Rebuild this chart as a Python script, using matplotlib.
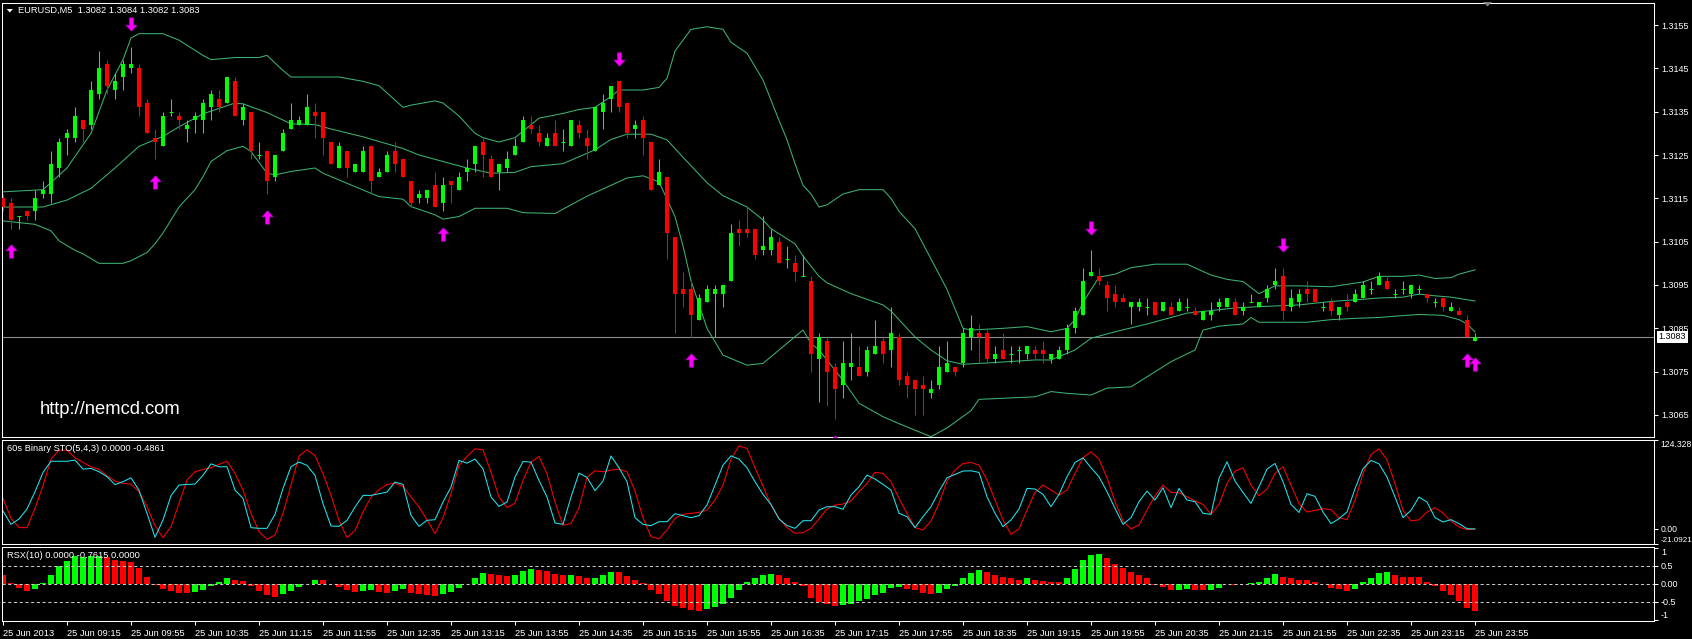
import numpy as np
import matplotlib
matplotlib.use('Agg')
import matplotlib.pyplot as plt
from matplotlib.path import Path
from matplotlib.patches import Polygon

plt.rcParams['font.family'] = ['Liberation Sans', 'DejaVu Sans']

W, H = 1692, 639
BULL = '#00ff00'
BEAR = '#ff0000'
BAND = '#3cb371'
CYAN = '#1fe6ee'

# EURUSD M5, 25 Jun 2013 08:35 .. 23:55 (185 bars)
opens = [
    1.3115, 1.3114, 1.3111, 1.3112, 1.3112, 1.3116, 1.3116, 1.3122, 1.3129, 1.3129,
    1.3133, 1.3132, 1.3139, 1.3146, 1.3140, 1.3143, 1.3145, 1.3145, 1.3137, 1.3129,
    1.3127, 1.3135, 1.3134, 1.3131, 1.3133, 1.3133, 1.3136, 1.3138, 1.3137, 1.3142,
    1.3133, 1.3135, 1.3125, 1.3126, 1.3120, 1.3126, 1.3131, 1.3132, 1.3132, 1.3135,
    1.3135, 1.3128, 1.3122, 1.3126, 1.3121, 1.3121, 1.3127, 1.3120, 1.3121, 1.3126,
    1.3124, 1.3119, 1.3115, 1.3115, 1.3118, 1.3114, 1.3119, 1.3117, 1.3121, 1.3123,
    1.3128, 1.3124, 1.3121, 1.3122, 1.3125, 1.3128, 1.3132, 1.3130, 1.3127, 1.3130,
    1.3128, 1.3127, 1.3132, 1.3129, 1.3126, 1.3135, 1.3138, 1.3142, 1.3137, 1.3131,
    1.3133, 1.3128, 1.3118, 1.3120, 1.3106, 1.3094, 1.3094, 1.3087, 1.3091, 1.3093,
    1.3093, 1.3096, 1.3108, 1.3108, 1.3108, 1.3103, 1.3103, 1.3105, 1.3101, 1.3100,
    1.3097, 1.3096, 1.3078, 1.3082, 1.3076, 1.3072, 1.3076, 1.3076, 1.3075, 1.3079,
    1.3082, 1.3080, 1.3083, 1.3074, 1.3073, 1.3072, 1.3070, 1.3072, 1.3075, 1.3076,
    1.3077, 1.3083, 1.3084, 1.3084, 1.3078, 1.3080, 1.3079, 1.3080, 1.3079, 1.3080,
    1.3080, 1.3078, 1.3078, 1.3080, 1.3085, 1.3088, 1.3097, 1.3097, 1.3095, 1.3093,
    1.3092, 1.3090, 1.3090, 1.3090, 1.3091, 1.3089, 1.3090, 1.3089, 1.3090, 1.3089,
    1.3087, 1.3088, 1.3090, 1.3090, 1.3091, 1.3089, 1.3091, 1.3090, 1.3092, 1.3095,
    1.3097, 1.3090, 1.3091, 1.3094, 1.3094, 1.3090, 1.3091, 1.3088, 1.3091, 1.3091,
    1.3092, 1.3094, 1.3095, 1.3096, 1.3093, 1.3094, 1.3093, 1.3094, 1.3093, 1.3091,
    1.3092, 1.3089, 1.3089, 1.3087, 1.3082,
]
highs = [
    1.3116, 1.3115, 1.3111, 1.3112, 1.3117, 1.3119, 1.3126, 1.3129, 1.3131, 1.3136,
    1.3133, 1.3142, 1.3149, 1.3147, 1.3144, 1.3147, 1.3150, 1.3146, 1.3138, 1.3131,
    1.3135, 1.3138, 1.3135, 1.3133, 1.3135, 1.3138, 1.3140, 1.3140, 1.3143, 1.3143,
    1.3137, 1.3135, 1.3128, 1.3126, 1.3125, 1.3131, 1.3137, 1.3134, 1.3139, 1.3137,
    1.3135, 1.3128, 1.3128, 1.3126, 1.3123, 1.3127, 1.3127, 1.3122, 1.3126, 1.3128,
    1.3124, 1.3119, 1.3117, 1.3117, 1.3121, 1.3120, 1.3119, 1.3121, 1.3124, 1.3127,
    1.3129, 1.3125, 1.3123, 1.3126, 1.3129, 1.3134, 1.3134, 1.3132, 1.3130, 1.3133,
    1.3131, 1.3133, 1.3133, 1.3131, 1.3136, 1.3139, 1.3141, 1.3142, 1.3137, 1.3133,
    1.3134, 1.3128, 1.3124, 1.3120, 1.3106, 1.3098, 1.3096, 1.3093, 1.3095, 1.3095,
    1.3095, 1.3109, 1.3110, 1.3113, 1.3108, 1.3111, 1.3108, 1.3106, 1.3104, 1.3102,
    1.3102, 1.3097, 1.3084, 1.3083, 1.3077, 1.3082, 1.3084, 1.3081, 1.3081, 1.3087,
    1.3083, 1.3090, 1.3084, 1.3075, 1.3073, 1.3074, 1.3073, 1.3081, 1.3082, 1.3076,
    1.3085, 1.3088, 1.3086, 1.3085, 1.3081, 1.3084, 1.3081, 1.3081, 1.3081, 1.3081,
    1.3082, 1.3079, 1.3081, 1.3086, 1.3090, 1.3099, 1.3103, 1.3099, 1.3096, 1.3095,
    1.3093, 1.3091, 1.3092, 1.3092, 1.3091, 1.3091, 1.3091, 1.3092, 1.3092, 1.3090,
    1.3089, 1.3091, 1.3092, 1.3092, 1.3092, 1.3091, 1.3093, 1.3091, 1.3095, 1.3099,
    1.3099, 1.3094, 1.3094, 1.3096, 1.3094, 1.3091, 1.3092, 1.3090, 1.3093, 1.3094,
    1.3096, 1.3096, 1.3098, 1.3097, 1.3094, 1.3096, 1.3095, 1.3095, 1.3093, 1.3092,
    1.3092, 1.3091, 1.3090, 1.3088, 1.3084,
]
lows = [
    1.3112, 1.3108, 1.3108, 1.3110, 1.3110, 1.3115, 1.3114, 1.3120, 1.3125, 1.3128,
    1.3128, 1.3131, 1.3138, 1.3139, 1.3138, 1.3140, 1.3144, 1.3134, 1.3130, 1.3124,
    1.3127, 1.3134, 1.3131, 1.3128, 1.3130, 1.3130, 1.3133, 1.3135, 1.3137, 1.3134,
    1.3132, 1.3124, 1.3124, 1.3116, 1.3119, 1.3126, 1.3131, 1.3132, 1.3132, 1.3129,
    1.3125, 1.3123, 1.3122, 1.3120, 1.3121, 1.3121, 1.3116, 1.3120, 1.3121, 1.3121,
    1.3120, 1.3113, 1.3114, 1.3114, 1.3113, 1.3112, 1.3114, 1.3117, 1.3119, 1.3121,
    1.3120, 1.3120, 1.3117, 1.3121, 1.3125, 1.3128, 1.3130, 1.3127, 1.3127, 1.3127,
    1.3126, 1.3127, 1.3129, 1.3124, 1.3126, 1.3131, 1.3135, 1.3135, 1.3129, 1.3129,
    1.3125, 1.3117, 1.3118, 1.3101, 1.3084, 1.3090, 1.3083, 1.3087, 1.3091, 1.3083,
    1.3090, 1.3096, 1.3104, 1.3106, 1.3101, 1.3102, 1.3102, 1.3100, 1.3099, 1.3096,
    1.3097, 1.3075, 1.3068, 1.3067, 1.3064, 1.3069, 1.3073, 1.3074, 1.3074, 1.3079,
    1.3077, 1.3076, 1.3072, 1.3069, 1.3065, 1.3065, 1.3069, 1.3071, 1.3075, 1.3074,
    1.3076, 1.3080, 1.3077, 1.3077, 1.3077, 1.3078, 1.3077, 1.3077, 1.3078, 1.3078,
    1.3077, 1.3077, 1.3078, 1.3079, 1.3084, 1.3088, 1.3097, 1.3095, 1.3089, 1.3090,
    1.3091, 1.3086, 1.3089, 1.3088, 1.3088, 1.3089, 1.3088, 1.3089, 1.3089, 1.3088,
    1.3087, 1.3087, 1.3089, 1.3090, 1.3088, 1.3088, 1.3091, 1.3090, 1.3091, 1.3094,
    1.3087, 1.3089, 1.3090, 1.3091, 1.3091, 1.3089, 1.3088, 1.3087, 1.3089, 1.3091,
    1.3092, 1.3093, 1.3095, 1.3094, 1.3092, 1.3093, 1.3092, 1.3093, 1.3091, 1.3090,
    1.3089, 1.3089, 1.3088, 1.3083, 1.3082,
]
closes = [
    1.3113, 1.3110, 1.3111, 1.3111, 1.3115, 1.3117, 1.3123, 1.3128, 1.3130, 1.3134,
    1.3131, 1.3140, 1.3145, 1.3141, 1.3142, 1.3146, 1.3146, 1.3136, 1.3130, 1.3128,
    1.3134, 1.3135, 1.3133, 1.3132, 1.3134, 1.3137, 1.3139, 1.3136, 1.3143, 1.3134,
    1.3136, 1.3126, 1.3125, 1.3119, 1.3125, 1.3130, 1.3133, 1.3133, 1.3136, 1.3134,
    1.3129, 1.3123, 1.3127, 1.3122, 1.3123, 1.3126, 1.3119, 1.3121, 1.3125, 1.3123,
    1.3120, 1.3114, 1.3116, 1.3117, 1.3113, 1.3118, 1.3118, 1.3120, 1.3122, 1.3127,
    1.3125, 1.3120, 1.3123, 1.3124, 1.3127, 1.3133, 1.3131, 1.3128, 1.3129, 1.3127,
    1.3128, 1.3133, 1.3130, 1.3127, 1.3136, 1.3137, 1.3141, 1.3136, 1.3130, 1.3132,
    1.3129, 1.3117, 1.3121, 1.3107, 1.3093, 1.3093, 1.3088, 1.3092, 1.3094, 1.3094,
    1.3095, 1.3107, 1.3107, 1.3107, 1.3102, 1.3104, 1.3106, 1.3100, 1.3101, 1.3098,
    1.3097, 1.3079, 1.3083, 1.3075, 1.3071, 1.3077, 1.3077, 1.3074, 1.3080, 1.3081,
    1.3079, 1.3084, 1.3073, 1.3072, 1.3071, 1.3071, 1.3071, 1.3076, 1.3077, 1.3075,
    1.3084, 1.3085, 1.3083, 1.3078, 1.3079, 1.3078, 1.3079, 1.3080, 1.3081, 1.3079,
    1.3079, 1.3079, 1.3080, 1.3085, 1.3089, 1.3096, 1.3098, 1.3096, 1.3092, 1.3091,
    1.3091, 1.3091, 1.3091, 1.3090, 1.3088, 1.3091, 1.3088, 1.3091, 1.3090, 1.3088,
    1.3089, 1.3089, 1.3091, 1.3092, 1.3088, 1.3090, 1.3091, 1.3091, 1.3094, 1.3096,
    1.3089, 1.3092, 1.3093, 1.3093, 1.3091, 1.3090, 1.3089, 1.3090, 1.3090, 1.3093,
    1.3095, 1.3094, 1.3097, 1.3094, 1.3093, 1.3094, 1.3095, 1.3094, 1.3092, 1.3091,
    1.3090, 1.3090, 1.3088, 1.3083, 1.3083,
]

# Bollinger bands at these bars
upper_idx = [0, 5, 8, 11, 12, 13, 15, 16, 17, 20, 22, 25, 26, 29, 32, 33, 35, 36, 38, 42,
             45, 47, 50, 51, 54, 55, 57, 59, 60, 62, 64, 65, 67, 70, 72, 74, 76, 77, 80, 82,
             83, 84, 86, 88, 90, 91, 93, 95, 97, 98, 99, 100, 101, 102, 103, 105, 107, 110, 111, 112,
             114, 116, 118, 120, 121, 125, 128, 130, 131, 133, 134, 135, 137, 139, 141, 144, 148, 151, 153, 155,
             157, 159, 162, 166, 170, 172, 175, 177, 179, 181, 182, 184]
upper_val = [1.31165, 1.3117, 1.3122, 1.3130, 1.3135, 1.3140, 1.3147, 1.3152, 1.3153, 1.3153,
             1.31515, 1.3148, 1.3147, 1.31475, 1.31475, 1.3148, 1.31445, 1.3143, 1.3143, 1.3143,
             1.3142, 1.3141, 1.3136, 1.31365, 1.31375, 1.3137, 1.3134, 1.3130, 1.3129, 1.3128,
             1.3129, 1.31305, 1.31335, 1.31346, 1.31355, 1.3136, 1.31385, 1.3140, 1.3140, 1.31406,
             1.31427, 1.3149, 1.3154, 1.31546, 1.3154, 1.3151, 1.31485, 1.31423, 1.3133, 1.31285,
             1.3123, 1.3118, 1.3116, 1.3113, 1.31135, 1.3116, 1.3117, 1.3117, 1.3115, 1.3112,
             1.3108, 1.3101, 1.3094, 1.3085, 1.30846, 1.3085, 1.30854, 1.30846, 1.30842, 1.3085,
             1.3087, 1.3091, 1.30968, 1.30975, 1.3099, 1.30998, 1.30998, 1.30973, 1.30963, 1.30958,
             1.3093, 1.30948, 1.30948, 1.30946, 1.30957, 1.3097, 1.3097, 1.30973, 1.30965, 1.30967,
             1.30975, 1.30985]
middle_idx = [0, 5, 8, 11, 14, 17, 20, 22, 25, 29, 30, 33, 36, 39, 41, 45, 50, 52, 55, 58,
              61, 64, 66, 70, 72, 74, 76, 78, 81, 83, 85, 88, 90, 93, 95, 96, 99, 100, 102, 103,
              106, 110, 111, 112, 114, 116, 118, 120, 123, 129, 131, 134, 136, 139, 143, 148, 154, 157, 162, 166,
              170, 172, 175, 177, 179, 181, 184]
middle_val = [1.3113, 1.3113, 1.31146, 1.31173, 1.3122, 1.3127, 1.31293, 1.31315, 1.31345, 1.3137,
              1.31368, 1.31348, 1.31322, 1.3132, 1.3131, 1.31292, 1.31265, 1.3125, 1.31235, 1.3122,
              1.31208, 1.3121, 1.31223, 1.3123, 1.31246, 1.31262, 1.31286, 1.31298, 1.31298, 1.31285,
              1.31245, 1.31186, 1.31156, 1.3113, 1.3110, 1.3108, 1.31045, 1.31017, 1.3097, 1.30955,
              1.3093, 1.30904, 1.3089, 1.3087, 1.3083, 1.3080, 1.30775, 1.30767, 1.3077, 1.30777,
              1.30777, 1.3080, 1.30827, 1.30842, 1.3086, 1.30885, 1.30897, 1.3090, 1.30904, 1.30912,
              1.30917, 1.3092, 1.30922, 1.30929, 1.30925, 1.30922, 1.30913]
lower_idx = [0, 4, 6, 7, 9, 10, 12, 15, 16, 18, 19, 20, 21, 22, 23, 24, 25, 26, 28, 30,
             31, 33, 34, 36, 39, 40, 44, 47, 50, 51, 54, 55, 57, 59, 63, 65, 69, 71, 73, 76,
             78, 80, 82, 84, 85, 86, 88, 90, 93, 95, 97, 100, 101, 102, 105, 107, 110, 112, 114, 116,
             118, 121, 122, 129, 131, 133, 136, 138, 141, 143, 146, 149, 150, 152, 155, 156, 157, 163, 166, 169,
             172, 174, 177, 180, 182, 183, 184]
lower_val = [1.31098, 1.3109, 1.31075, 1.31052, 1.3103, 1.31022, 1.3100, 1.3100, 1.31006, 1.31025,
             1.31045, 1.3107, 1.3110, 1.3113, 1.3115, 1.3117, 1.3120, 1.31235, 1.3126, 1.3127,
             1.31258, 1.31208, 1.31204, 1.31212, 1.3122, 1.31208, 1.31177, 1.31154, 1.31148, 1.31131,
             1.31112, 1.31102, 1.31108, 1.31127, 1.31127, 1.31117, 1.31115, 1.31135, 1.31155, 1.3118,
             1.31197, 1.31202, 1.31188, 1.31108, 1.3104, 1.3096, 1.3085, 1.30788, 1.30765, 1.30769,
             1.3080, 1.30846, 1.30815, 1.3080, 1.3073, 1.30677, 1.30646, 1.3063, 1.30615, 1.3060,
             1.3062, 1.3066, 1.30686, 1.30692, 1.30704, 1.3070, 1.30696, 1.30712, 1.30715, 1.30738,
             1.30773, 1.3080, 1.30846, 1.30855, 1.3086, 1.30875, 1.30864, 1.30864, 1.3087, 1.30873,
             1.30875, 1.30878, 1.30882, 1.3088, 1.3087, 1.3086, 1.30842]

# signal arrows (bar numbers)
arrows_up = [1, 19, 33, 55, 86, 104, 183, 184]
arrows_down = [16, 77, 136, 160]

# 60s Binary STO(5,4,3)
sto_main = [
    25, 6.4, 13.9, 27.8, 52, 79, 94.6, 94.6, 94.6, 96.2,
    83.6, 84.6, 80, 73, 62, 66, 71.5, 54, 21.8, -11.7,
    12.5, 46.4, 61.3, 62.2, 62.7, 75, 91, 86.9, 86.9, 54.3,
    42.7, 1.8, 0.8, 0.8, 20.4, 56.7, 86.9, 93.6, 88.8, 74.8,
    35.3, 4.1, 3.6, 12, 30.6, 46.9, 46.9, 49.2, 51.5, 65.5,
    62.2, 19, 3.6, 12, 12.9, 37.6, 58.5, 95.7, 92, 97.6,
    84.1, 44.6, 31.5, 37.6, 72.5, 94.3, 93.4, 67.8, 44.6, 8.3,
    6.4, 44.6, 78, 72, 53.5, 66.9, 102, 85.5, 66, 15.7,
    6.4, 4.6, 10.1, 10.1, 21.3, 18.5, 15.7, 18.5, 33.4, 61.3,
    89.2, 102.2, 97.6, 85.5, 66, 48.3, 34.3, 13.9, 4.6, 0.8,
    11.5, 11.5, 26.4, 31.1, 31.1, 27.4, 47.4, 59, 75.3, 69.7,
    62.2, 54.3, 21.8, 17.1, 1.8, 17.1, 31.1, 52.5, 71.5, 76.2,
    80.9, 81.3, 79, 45, 21.8, 3.2, 12.5, 27.8, 56.7, 55.8,
    48.3, 31.1, 48.3, 72.9, 92.9, 99.4, 85.5, 72.9, 52, 28.8,
    6.4, 15.7, 38.1, 52.9, 40.4, 57.6, 29.7, 56.7, 40.4, 38.1,
    21.8, 20.4, 70.6, 93.9, 66.9, 51, 35.7, 59, 83.6, 91.5,
    66, 34.3, 23, 49.2, 45.5, 23.6, 7.4, 14.3, 23.6, 56.2,
    84.1, 95.7, 91.1, 72.5, 44.6, 15.7, 26, 44.6, 37.6, 15.7,
    9.7, 12.9, 7.4, 0.3, 0.0,
]
sto_signal = [
    42.7, 14.8, 1.8, 1.8, 28.8, 60.4, 97.6, 110, 110, 99.5,
    92.9, 86.9, 83.2, 74.3, 66.9, 63.6, 62.7, 52, 31.1, 4.6,
    -12.2, 3.2, 35.7, 68.3, 79.9, 83.2, 85.5, 90.2, 94.8, 77.6,
    54.3, 21.8, -3.8, -14.5, -8.5, 21.8, 61.3, 102, 110.6, 102.7,
    77.1, 46.9, 12, -12.2, -2, 23.6, 44.6, 54.8, 62.2, 64,
    59.4, 44.6, 30.6, 12.9, -6.6, 15.7, 49.2, 88.8, 101.3, 112,
    110.6, 79.5, 44.6, 29.7, 36.2, 67.8, 93.4, 101.3, 77.1, 37.6,
    5, 7.4, 29.7, 72, 81.3, 79.9, 82.2, 83.6, 79.9, 52.9,
    15.7, -10.8, -14, -1.5, 14.8, 20.4, 21.8, 23.2, 26.4, 40.4,
    61.3, 97.6, 116.2, 112.5, 85.5, 59.9, 33.4, 14.8, 1.8, -6.1,
    -5.2, 0.8, 13.9, 27.8, 33.4, 34.8, 39, 52, 63.6, 79,
    77.6, 66, 42.7, 21.8, 1.8, -1.5, 11.1, 35.7, 66.9, 82.2,
    91.5, 92.9, 89.2, 68.3, 40.4, 12.5, -7.5, 0, 26.4, 51,
    61.3, 54.3, 47.4, 54.3, 77.6, 99.4, 107.8, 97.6, 71.5, 38.1,
    11.1, 0, 5.5, 26.4, 46.4, 61.3, 51, 50.5, 45, 39,
    34.3, 20.4, 34.3, 63.6, 80.9, 85.5, 61.3, 46.4, 55.8, 77.6,
    86.9, 61.3, 35.5, 23.6, 26, 28.3, 26.9, 15.7, 12.9, 39.9,
    77.1, 104.1, 112, 96.7, 63.2, 26, 11.1, 12.9, 23.6, 29.7,
    22.2, 11.1, 2.7, -1, -0.4861,
]
sto_min, sto_max = -21.0921, 124.328

# RSX(10) histogram, g = rising bar, r = falling bar
rsx = [
    0.26, 0.03, -0.12, -0.21, -0.15, 0.03, 0.26, 0.49, 0.63, 0.76,
    0.75, 0.76, 0.77, 0.74, 0.66, 0.63, 0.61, 0.45, 0.19, -0.02,
    -0.15, -0.21, -0.24, -0.24, -0.22, -0.17, -0.06, 0.04, 0.15, 0.11,
    0.08, -0.06, -0.21, -0.31, -0.36, -0.28, -0.21, -0.09, 0.01, 0.12,
    0.10, 0.01, -0.08, -0.17, -0.23, -0.2, -0.16, -0.22, -0.25, -0.19,
    -0.15, -0.25, -0.27, -0.3, -0.33, -0.27, -0.22, -0.11, 0.01, 0.16,
    0.3, 0.27, 0.25, 0.23, 0.25, 0.35, 0.41, 0.39, 0.36, 0.27,
    0.24, 0.25, 0.23, 0.15, 0.17, 0.24, 0.34, 0.33, 0.23, 0.11,
    0.02, -0.17, -0.28, -0.48, -0.6, -0.68, -0.72, -0.74, -0.7, -0.64,
    -0.55, -0.39, -0.17, 0.06, 0.15, 0.24, 0.28, 0.24, 0.17, 0.06,
    -0.05, -0.38, -0.5, -0.57, -0.6, -0.58, -0.55, -0.48, -0.41, -0.31,
    -0.24, -0.1, -0.08, -0.15, -0.17, -0.24, -0.28, -0.24, -0.15, -0.06,
    0.15, 0.31, 0.39, 0.34, 0.26, 0.2, 0.15, 0.12, 0.15, 0.12,
    0.09, 0.06, 0.05, 0.17, 0.42, 0.66, 0.8, 0.83, 0.72, 0.55,
    0.45, 0.34, 0.25, 0.15, -0.03, -0.09, -0.17, -0.16, -0.15, -0.17,
    -0.18, -0.17, -0.12, -0.01, -0.03, -0.01, 0.02, 0.06, 0.15, 0.28,
    0.2, 0.15, 0.12, 0.11, 0.06, -0.01, -0.1, -0.15, -0.19, -0.13,
    0.06, 0.17, 0.31, 0.32, 0.25, 0.2, 0.19, 0.18, 0.06, -0.07,
    -0.21, -0.32, -0.47, -0.66, -0.7615,
]
rsx_dir = ("rrrrgggggg" "gggrrrrrrr" "rrrrgggggr" "rrrrrggggg" "rrrrrggrrg"
           "grrrrggggg" "grrrgggrrr" "rgrrgggrrr" "rrrrrrrrgg" "gggggggrrr"
           "rrrrrggggg" "gggrrrrggg" "gggrrrrrgr" "rrrgggggrr" "rrrrrrrggr"
           "rgggrggggg" "rrrrrrrrrg" "ggggrrrrrr" "rrrrr")

price_ticks = [1.3065, 1.3075, 1.3085, 1.3095, 1.3105, 1.3115, 1.3125, 1.3135, 1.3145, 1.3155]
time_labels = ['25 Jun 2013', '25 Jun 09:15', '25 Jun 09:55', '25 Jun 10:35', '25 Jun 11:15',
               '25 Jun 11:55', '25 Jun 12:35', '25 Jun 13:15', '25 Jun 13:55', '25 Jun 14:35',
               '25 Jun 15:15', '25 Jun 15:55', '25 Jun 16:35', '25 Jun 17:15', '25 Jun 17:55',
               '25 Jun 18:35', '25 Jun 19:15', '25 Jun 19:55', '25 Jun 20:35', '25 Jun 21:15',
               '25 Jun 21:55', '25 Jun 22:35', '25 Jun 23:15', '25 Jun 23:55']

fig = plt.figure(figsize=(W / 100, H / 100), dpi=100, facecolor='black')


def px_axes(x0, y0, x1, y1):
    return fig.add_axes([x0 / W, 1 - y1 / H, (x1 - x0) / W, (y1 - y0) / H], facecolor='black')


def fig_xy(x, y):
    return x / W, 1 - y / H


ax = px_axes(2, 3, 1654, 437)
ax_sto = px_axes(2, 440, 1654, 544)
ax_rsx = px_axes(2, 546.5, 1654, 621)

n = len(opens)
x = np.arange(n)
for a in (ax, ax_sto, ax_rsx):
    a.set_xlim(-0.125, 206.375)
    for s in a.spines.values():
        s.set_color('white')
        s.set_linewidth(0.75)
    a.yaxis.tick_right()
    a.tick_params(axis='y', colors='white', length=3, width=0.75, labelsize=6.5, pad=2)
    a.tick_params(axis='x', bottom=False, labelbottom=False)

# --- main price window ---
o = np.array(opens)
hi = np.array(highs)
lo = np.array(lows)
c = np.array(closes)
col = np.where(c >= o, BULL, BEAR)
ax.vlines(x, lo, hi, colors=col, lw=0.75, zorder=3)
body = np.abs(c - o) > 1e-9
ax.bar(x[body], np.abs(c - o)[body], bottom=np.minimum(o, c)[body], width=0.62,
       color=col[body], linewidth=0, zorder=3)
ax.hlines(o[~body], x[~body] - 0.31, x[~body] + 0.31, colors=col[~body], lw=0.75, zorder=3)

ax.plot(upper_idx, upper_val, color=BAND, lw=0.75, zorder=2)
ax.plot(middle_idx, middle_val, color=BAND, lw=0.75, zorder=2)
ax.plot(lower_idx, lower_val, color=BAND, lw=0.75, zorder=2)

ax.axhline(c[-1], color='#8c8c8c', lw=0.8, zorder=1)

up_path = Path([(0, 0.5), (0.42, 0.05), (0.15, 0.05), (0.15, -0.5), (-0.15, -0.5),
                (-0.15, 0.05), (-0.42, 0.05), (0, 0.5)], closed=True)
down_path = Path([(vx, -vy) for vx, vy in up_path.vertices], closed=True)
gap = 0.00052
ax.plot(arrows_up, lo[arrows_up] - gap, ls='none', marker=up_path, ms=9.6,
        mfc='#ff00ff', mec='#b000c8', mew=0.5, zorder=4)
ax.plot(arrows_down, hi[arrows_down] + gap, ls='none', marker=down_path, ms=9.6,
        mfc='#ff00ff', mec='#b000c8', mew=0.5, zorder=4)

ax.set_ylim(1.305992, 1.316008)
ax.set_yticks(price_ticks)
ax.set_yticklabels(['%.4f' % p for p in price_ticks])

ax.annotate('%.4f' % c[-1], xy=(1, c[-1]), xycoords=('axes fraction', 'data'),
            xytext=(3.2, 0), textcoords='offset points', ha='left', va='center',
            fontsize=6.5, color='black',
            bbox=dict(boxstyle='square,pad=0.2', fc='white', ec='white', lw=0),
            annotation_clip=False)

fig.text(*fig_xy(18, 10.7), 'EURUSD,M5  %.4f %.4f %.4f %.4f' % (o[-1], hi[-1], lo[-1], c[-1]),
         color='white', fontsize=6.7, va='center', ha='left')
fig.add_artist(Polygon([fig_xy(6.7, 9), fig_xy(12.9, 9), fig_xy(9.8, 12.5)],
                       closed=True, fc='white', ec='none', transform=fig.transFigure))
fig.add_artist(Polygon([fig_xy(1483, 2), fig_xy(1492, 2), fig_xy(1487.5, 6.5)],
                       closed=True, fc='#808080', ec='none', transform=fig.transFigure))
fig.text(*fig_xy(40, 410), 'http://nemcd.com', color='white', fontsize=13.2,
         va='center', ha='left')

# --- stochastic window ---
ax_sto.plot(x, sto_signal, color=BEAR, lw=0.75)
ax_sto.plot(x, sto_main, color=CYAN, lw=0.75)
ax_sto.set_ylim(sto_min, sto_max)
ax_sto.set_yticks([sto_max, 0, sto_min])
ax_sto.set_yticklabels(['%.3f' % sto_max, '0.00', '%.4f' % sto_min])
ax_sto.tick_params(axis='y', labelsize=6.2, pad=1.5)
lbls = ax_sto.get_yticklabels()
lbls[0].set_va('top')
lbls[2].set_va('bottom')
lbls[2].set_fontsize(5.8)
fig.text(*fig_xy(7, 448.5), '60s Binary STO(5,4,3) %.4f %.4f' % (sto_main[-1], sto_signal[-1]),
         color='white', fontsize=6.7, va='center', ha='left')

# --- RSX window ---
rsx_col = [BULL if d == 'g' else BEAR for d in rsx_dir]
ax_rsx.bar(x, rsx, width=0.68, color=rsx_col, linewidth=0, zorder=2)
for lvl in (0.5, 0, -0.5):
    ax_rsx.axhline(lvl, color='#c8c8c8', lw=0.75, ls=(0, (3, 2.5)), zorder=3)
ax_rsx.set_ylim(-1.028, 1.036)
ax_rsx.set_yticks([1, 0.5, 0, -0.5, -1])
ax_rsx.set_yticklabels(['1', '0.5', '0.00', '-0.5', '-1'])
lbls = ax_rsx.get_yticklabels()
lbls[0].set_va('top')
lbls[4].set_va('bottom')
fig.text(*fig_xy(7, 555.3), 'RSX(10) 0.0000 %.4f 0.0000' % rsx[-1],
         color='white', fontsize=6.7, va='center', ha='left')

ax_rsx.set_xticks(x[::8])
ax_rsx.set_xticklabels(time_labels)
ax_rsx.tick_params(axis='x', bottom=True, labelbottom=True, colors='white', length=3,
                   width=0.75, labelsize=6.7, pad=2.5)
for t in ax_rsx.get_xticklabels():
    t.set_ha('left')

fig.savefig('out.png', dpi=100, facecolor='black')
